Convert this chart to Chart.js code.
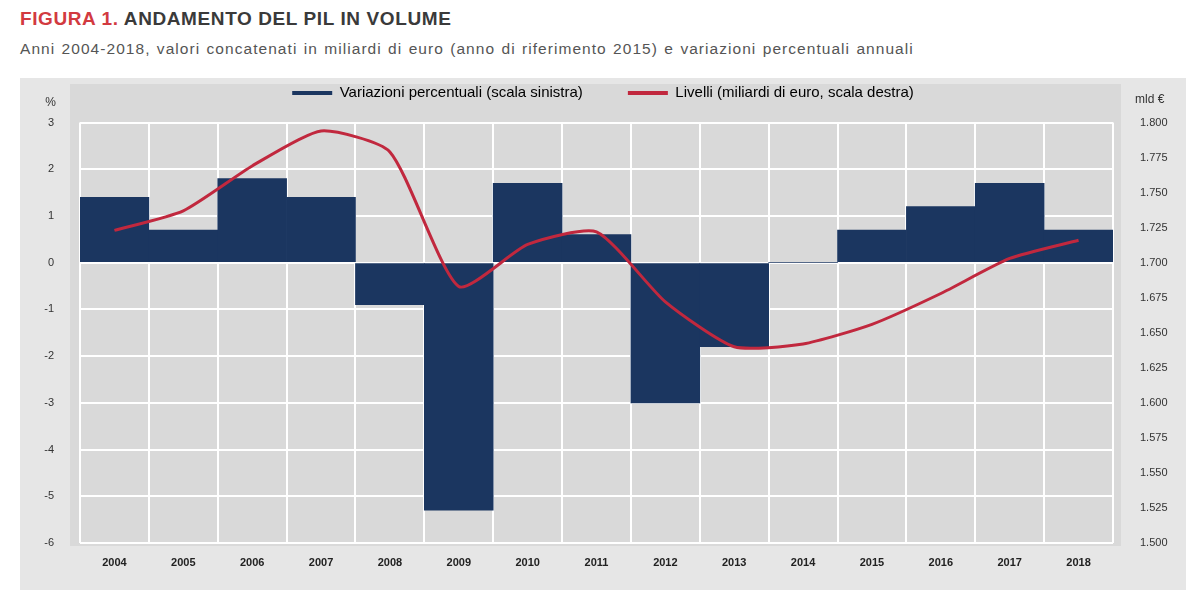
<!DOCTYPE html>
<html>
<head>
<meta charset="utf-8">
<script src="https://cdn.jsdelivr.net/npm/chart.js@4.4.1/dist/chart.umd.min.js"></script>
<style>
  html, body { margin: 0; padding: 0; background: #fff; }
  body { width: 1200px; height: 613px; position: relative; overflow: hidden; font-family: "Liberation Sans", Arial, sans-serif; }
  #title { position: absolute; left: 20px; top: 8px; font-size: 19px; font-weight: bold; color: #3a3a3a; letter-spacing: 0.6px; }
  #title span { color: #d23a40; }
  #subtitle { position: absolute; left: 20px; top: 40px; font-size: 15.5px; color: #555; letter-spacing: 1.05px; word-spacing: 1px; }
  #frame { position: absolute; left: 20px; top: 78px; width: 1166px; height: 512px; background: #e6e6e6; }
</style>
</head>
<body>
<div id="title"><span>FIGURA 1.</span> ANDAMENTO DEL PIL IN VOLUME</div>
<div id="subtitle">Anni 2004-2018, valori concatenati in miliardi di euro (anno di riferimento 2015) e variazioni percentuali annuali</div>
<div id="frame"><canvas id="chart" width="1166" height="512"></canvas></div>
<script>
// anni
const years = ['2004', '2005', '2006', '2007', '2008', '2009', '2010', '2011', '2012', '2013', '2014', '2015', '2016', '2017', '2018'];
// variazioni percentuali (scala sinistra)
const growth = [1.4, 0.7, 1.8, 1.4, -0.9, -5.3, 1.7, 0.6, -3.0, -1.8, 0.0, 0.7, 1.2, 1.7, 0.7];
// livelli, miliardi di euro (scala destra)
const levels = [1723, 1737, 1769, 1794, 1779, 1683, 1713, 1722, 1672, 1640, 1642, 1656, 1678, 1703, 1716];
const legendTexts = ['Variazioni percentuali (scala sinistra)', 'Livelli (miliardi di euro, scala destra)'];

const navy = '#1b3660';
const red = '#c1283e';
const fontFamily = '"Liberation Sans", Arial, sans-serif';

function itNumber(v) {
    const s = String(Math.round(v));
    return s.length > 3 ? s.slice(0, -3) + '.' + s.slice(-3) : s;
}

// sfondo più scuro dell'area del grafico
const plotBackground = {
    id: 'plotBackground',
    beforeDraw(chart) {
        const { ctx, chartArea } = chart;
        ctx.save();
        ctx.fillStyle = '#d9d9d9';
        ctx.fillRect(chartArea.left - 10, 6, chartArea.right - chartArea.left + 18, chartArea.bottom + 3 - 6);
        ctx.restore();
    }
};

// unità di misura sopra gli assi
const unitLabels = {
    id: 'unitLabels',
    afterDraw(chart) {
        const { ctx, chartArea, scales } = chart;
        ctx.save();
        ctx.fillStyle = '#333';
        ctx.font = '12px ' + fontFamily;
        ctx.textBaseline = 'middle';
        ctx.textAlign = 'right';
        ctx.fillText('%', scales.y.right - 24, chartArea.top - 20);
        ctx.textAlign = 'left';
        ctx.fillText('mld €', scales.y1.left + 22, chartArea.top - 23);
        ctx.restore();
    }
};

// spazio fra legenda e area del grafico
const legendGap = {
    id: 'legendGap',
    beforeInit(chart) {
        const fit = chart.legend.fit;
        chart.legend.fit = function () {
            fit.call(this);
            this.height += 12;
        };
    }
};

const ctx = document.getElementById('chart').getContext('2d');
const chart = new Chart(ctx, {
    data: {
        labels: years,
        datasets: [{
            type: 'bar',
            label: legendTexts[0],
            data: growth,
            backgroundColor: navy,
            borderWidth: 0,
            barPercentage: 1,
            categoryPercentage: 1,
            yAxisID: 'y',
            order: 2
        }, {
            type: 'line',
            label: legendTexts[1],
            data: levels,
            borderColor: red,
            backgroundColor: red,
            borderWidth: 3,
            pointRadius: 0,
            tension: 0.2,
            yAxisID: 'y1',
            order: 1
        }]
    },
    options: {
        responsive: false,
        animation: false,
        layout: { padding: 0 },
        plugins: {
            tooltip: { enabled: false },
            legend: {
                position: 'top',
                labels: {
                    boxWidth: 40,
                    boxHeight: 4,
                    padding: 7.5,
                    color: '#333',
                    font: { size: 15, family: fontFamily },
                    generateLabels: chart => chart.data.datasets.map((ds, i) => ({
                        text: i === 0 ? ds.label + '         ' : ds.label,
                        fillStyle: i === 0 ? navy : red,
                        strokeStyle: 'transparent',
                        lineWidth: 0,
                        hidden: false,
                        datasetIndex: i
                    }))
                }
            }
        },
        scales: {
            x: {
                offset: true,
                border: { display: false },
                grid: { offset: true, color: '#ffffff', lineWidth: 2, drawTicks: false },
                ticks: { color: '#222', padding: 13, font: { size: 11, weight: 'bold', family: fontFamily } },
                afterFit(scale) { scale.height = 47; }
            },
            y: {
                position: 'left',
                min: -6,
                max: 3,
                border: { display: false },
                grid: { color: '#ffffff', lineWidth: 2, drawTicks: false },
                ticks: { stepSize: 1, color: '#333', padding: 26, font: { size: 11, family: fontFamily } },
                afterFit(scale) { scale.width = 60; }
            },
            y1: {
                position: 'right',
                min: 1500,
                max: 1800,
                border: { display: false },
                grid: { display: false, drawTicks: false },
                ticks: { stepSize: 25, color: '#333', padding: 27, font: { size: 11, family: fontFamily }, callback: v => itNumber(v) },
                afterFit(scale) { scale.width = 73; }
            }
        }
    },
    plugins: [plotBackground, unitLabels, legendGap]
});
</script>
</body>
</html>
